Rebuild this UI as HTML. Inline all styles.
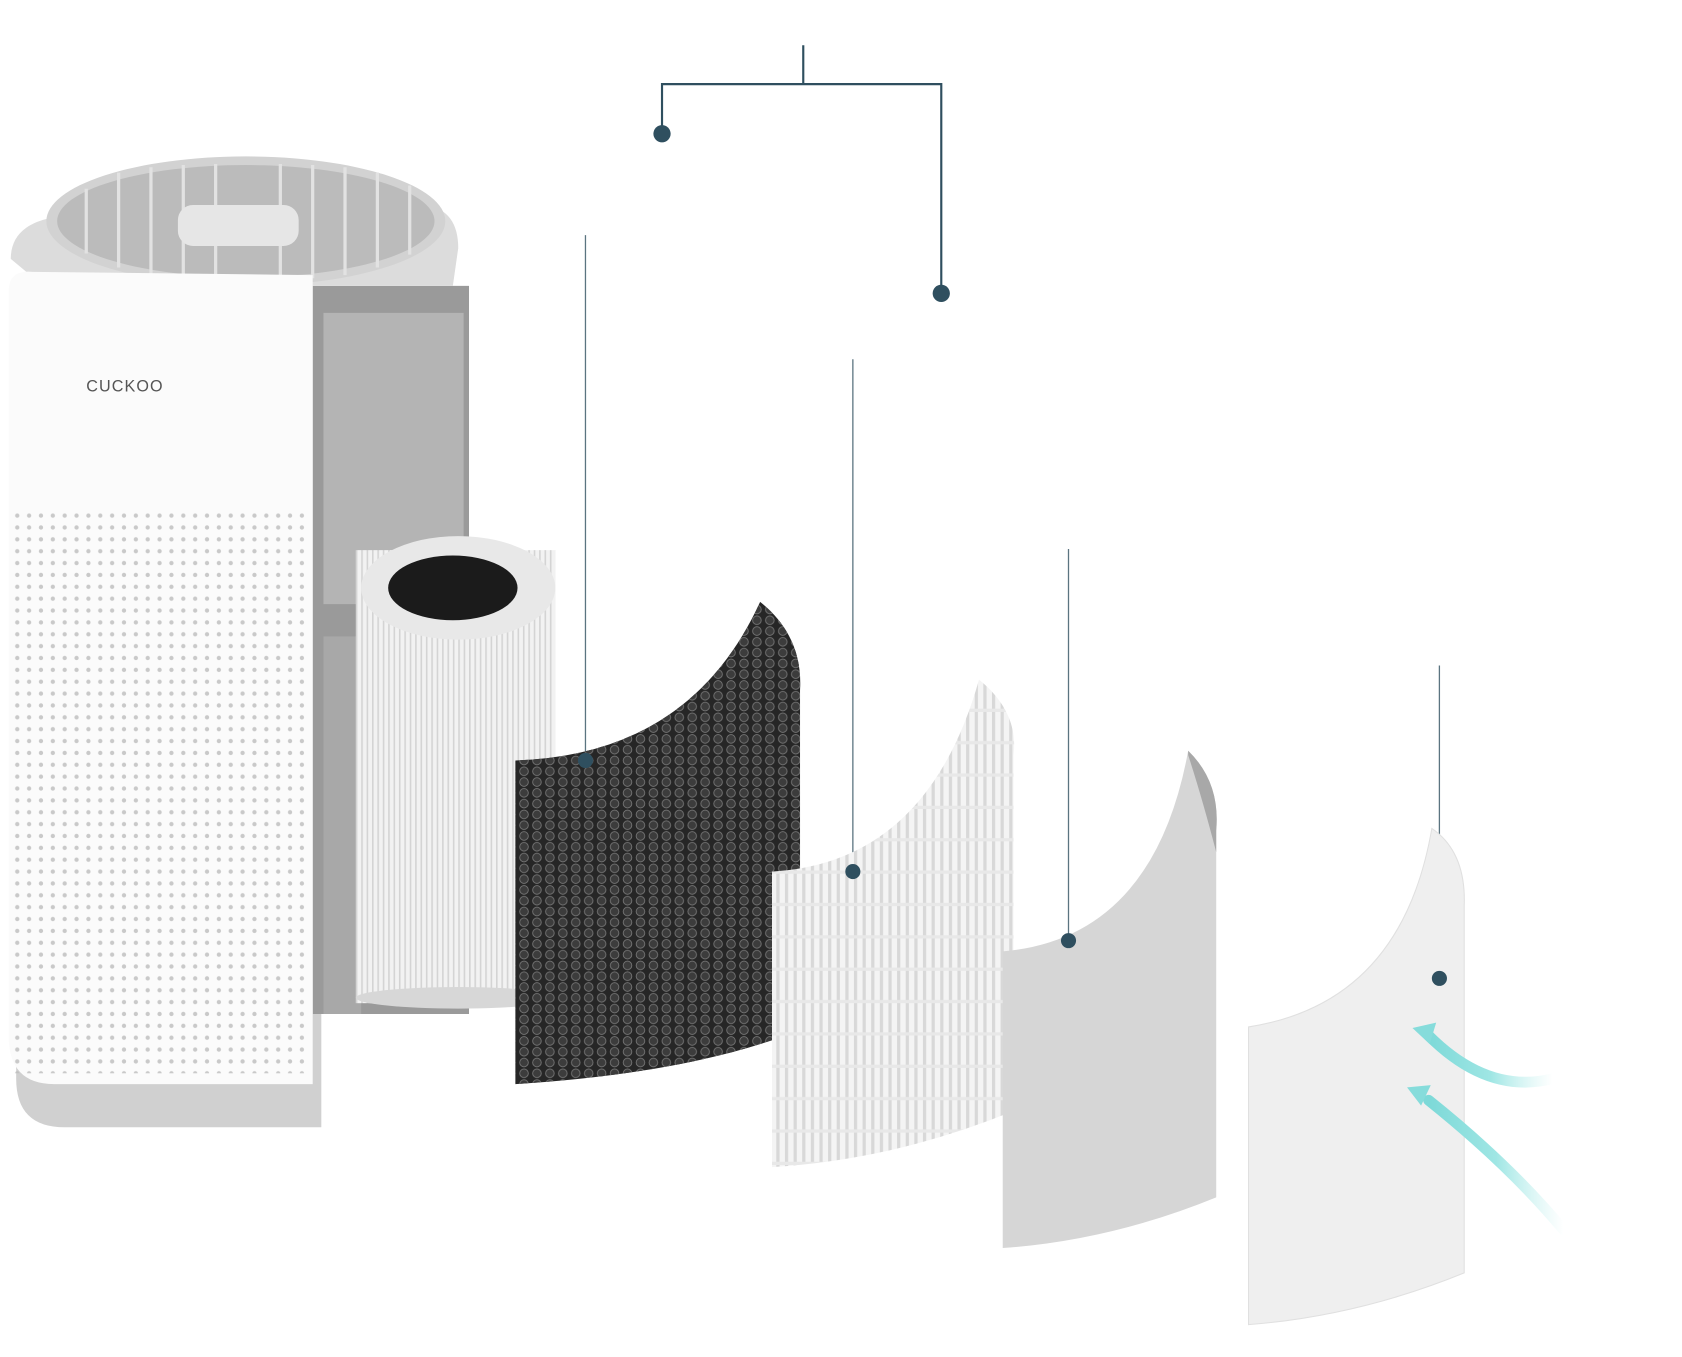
<!DOCTYPE html>
<html><head><meta charset="utf-8"><style>
html,body{margin:0;padding:0;background:#fff;width:1682px;height:1357px;overflow:hidden}
svg{display:block}
</style></head><body>
<svg width="1682" height="1357" viewBox="0 0 1560 1258" preserveAspectRatio="none" xmlns="http://www.w3.org/2000/svg">
<defs>
<pattern id="dots" width="11" height="11" patternUnits="userSpaceOnUse"><circle cx="5" cy="5" r="2" fill="#bdbdbd"/></pattern>
<pattern id="hex" width="12" height="10" patternUnits="userSpaceOnUse"><circle cx="6" cy="5" r="4" fill="#3c3c3c" stroke="#777" stroke-width="0.8"/></pattern>
<pattern id="pleat" width="8" height="30" patternUnits="userSpaceOnUse"><rect width="8" height="30" fill="#f4f4f4"/><rect x="0" width="3" height="30" fill="#d8d8d8"/><rect y="27" width="8" height="3" fill="#e8e8e8"/></pattern>
<pattern id="vpleat" width="5" height="10" patternUnits="userSpaceOnUse"><rect width="5" height="10" fill="#f2f2f2"/><rect width="1.5" height="10" fill="#d4d4d4"/></pattern>
<linearGradient id="cy" x1="1" y1="0" x2="0" y2="0"><stop offset="0" stop-color="#bff0ee" stop-opacity="0"/><stop offset="0.5" stop-color="#9fe6e4"/><stop offset="1" stop-color="#7dd9d8"/></linearGradient>
</defs>
<!-- connector lines -->
<g stroke="#2f4f5f" stroke-width="2" fill="none">
<path d="M745 42 V78 M614 124 V78 H873 V272"/>
</g>
<g stroke="#5b7480" stroke-width="1.2">
<line x1="543" y1="218" x2="543" y2="705"/>
<line x1="791" y1="333" x2="791" y2="808"/>
<line x1="991" y1="509" x2="991" y2="872"/>
<line x1="1335" y1="617" x2="1335" y2="907"/>
</g>
<!-- purifier -->
<path d="M15 940 H298 V1045 H60 Q15 1045 15 1000 Z" fill="#d0d0d0"/>
<path d="M290 265 H435 V940 H290 Z" fill="#9a9a9a"/>
<path d="M300 290 H430 V560 H300 Z" fill="#b4b4b4"/>
<path d="M300 590 H335 V940 H300 Z" fill="#a8a8a8"/>
<path d="M10 240 Q10 205 60 200 L395 190 Q425 195 425 230 L420 265 H40 Z" fill="#dcdcdc"/>
<ellipse cx="228" cy="205" rx="185" ry="60" fill="#d2d2d2"/>
<ellipse cx="228" cy="205" rx="175" ry="52" fill="#bbbbbb"/>
<g stroke="#e2e2e2" stroke-width="3">
<line x1="80" y1="175" x2="80" y2="235"/><line x1="110" y1="160" x2="110" y2="248"/><line x1="140" y1="155" x2="140" y2="255"/><line x1="170" y1="153" x2="170" y2="258"/><line x1="200" y1="152" x2="200" y2="258"/><line x1="260" y1="152" x2="260" y2="258"/><line x1="290" y1="153" x2="290" y2="258"/><line x1="320" y1="155" x2="320" y2="255"/><line x1="350" y1="160" x2="350" y2="248"/><line x1="380" y1="172" x2="380" y2="236"/>
</g>
<rect x="165" y="190" width="112" height="38" rx="14" fill="#e6e6e6"/>
<path d="M8 270 Q8 250 30 252 L290 255 V1005 H50 Q8 1005 8 960 Z" fill="#fbfbfb"/>
<rect x="12" y="470" width="272" height="525" fill="url(#dots)" opacity="0.8"/>
<text x="80" y="363" font-family="Liberation Sans, sans-serif" font-size="15" fill="#555" letter-spacing="1">CUCKOO</text>
<!-- cylinder filter -->
<rect x="330" y="510" width="185" height="420" fill="url(#vpleat)"/>
<ellipse cx="425" cy="925" rx="95" ry="10" fill="#d7d7d7"/>
<ellipse cx="425" cy="545" rx="90" ry="48" fill="#e8e8e8"/>
<ellipse cx="420" cy="545" rx="60" ry="30" fill="#1b1b1b"/>
<!-- carbon filter -->
<path d="M478 705 Q640 700 705 558 Q745 590 742 640 L742 955 Q640 995 478 1005 Z" fill="#262626"/>
<path d="M478 705 Q640 700 705 558 Q745 590 742 640 L742 955 Q640 995 478 1005 Z" fill="url(#hex)"/>
<!-- pleated filter -->
<path d="M716 808 Q860 800 908 630 Q945 660 940 700 L940 1030 Q830 1075 716 1082 Z" fill="url(#pleat)"/>
<!-- grey filter -->
<path d="M930 882 Q1070 870 1102 696 Q1132 725 1128 770 L1128 1110 Q1030 1150 930 1157 Z" fill="#d6d6d6"/>
<path d="M1102 696 Q1132 725 1128 770 L1128 790 Q1115 740 1102 700 Z" fill="#a8a8a8"/>
<!-- light filter -->
<path d="M1158 952 Q1300 930 1328 768 Q1360 790 1358 840 L1358 1180 Q1260 1220 1158 1228 Z" fill="#efefef" stroke="#e0e0e0"/>
<!-- airflow -->
<path d="M1440 1000 Q1380 1015 1325 960" stroke="url(#cy)" stroke-width="10" fill="none" stroke-linecap="round"/>
<path d="M1310 953 l22 -5 l-6 20 Z" fill="#86dcdb"/>
<path d="M1450 1140 Q1400 1080 1325 1020" stroke="url(#cy)" stroke-width="10" fill="none" stroke-linecap="round"/>
<path d="M1305 1008 l22 -2 l-9 19 Z" fill="#86dcdb"/>
<!-- dots -->
<g fill="#2f4f5f">
<circle cx="614" cy="124" r="8"/><circle cx="873" cy="272" r="8"/>
<circle cx="543" cy="705" r="7"/><circle cx="791" cy="808" r="7"/>
<circle cx="991" cy="872" r="7"/><circle cx="1335" cy="907" r="7"/>
</g>
</svg>
</body></html>
